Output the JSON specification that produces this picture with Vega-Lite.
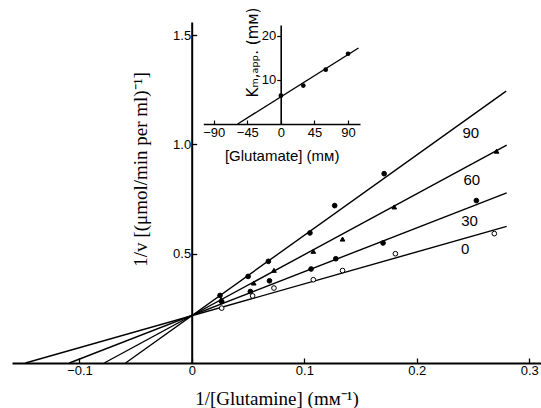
{
  "$schema": "https://vega.github.io/schema/vega-lite/v6.json",
  "autosize": {"type": "none"},
  "padding": {"left": 12, "top": 22, "right": 0, "bottom": 45},
  "width": 529,
  "height": 341,
  "background": "white",
  "config": {"view": {"stroke": null}, "axis": {"grid": false, "domainColor": "black", "tickColor": "black", "labelColor": "black", "titleColor": "black"}},
  "datasets": {
    "lines": [
      {"series": "0", "x": -0.148, "y": 0},
      {"series": "0", "x": 0.28, "y": 0.625},
      {"series": "30", "x": -0.109, "y": 0},
      {"series": "30", "x": 0.28, "y": 0.778},
      {"series": "60", "x": -0.078, "y": 0},
      {"series": "60", "x": 0.28, "y": 0.997},
      {"series": "90", "x": -0.059, "y": 0},
      {"series": "90", "x": 0.2795, "y": 1.244}
    ],
    "points": [
      {"series": "90", "x": 0.025, "y": 0.309},
      {"series": "90", "x": 0.050, "y": 0.396},
      {"series": "90", "x": 0.068, "y": 0.465},
      {"series": "90", "x": 0.105, "y": 0.595},
      {"series": "90", "x": 0.127, "y": 0.720},
      {"series": "90", "x": 0.171, "y": 0.866},
      {"series": "60", "x": 0.026, "y": 0.290},
      {"series": "60", "x": 0.055, "y": 0.366},
      {"series": "60", "x": 0.073, "y": 0.424},
      {"series": "60", "x": 0.108, "y": 0.511},
      {"series": "60", "x": 0.134, "y": 0.567},
      {"series": "60", "x": 0.180, "y": 0.714},
      {"series": "60", "x": 0.271, "y": 0.969},
      {"series": "30", "x": 0.0265, "y": 0.281},
      {"series": "30", "x": 0.052, "y": 0.327},
      {"series": "30", "x": 0.069, "y": 0.376},
      {"series": "30", "x": 0.106, "y": 0.430},
      {"series": "30", "x": 0.128, "y": 0.477},
      {"series": "30", "x": 0.170, "y": 0.549},
      {"series": "30", "x": 0.253, "y": 0.743},
      {"series": "0", "x": 0.0265, "y": 0.251},
      {"series": "0", "x": 0.054, "y": 0.307},
      {"series": "0", "x": 0.073, "y": 0.343},
      {"series": "0", "x": 0.108, "y": 0.381},
      {"series": "0", "x": 0.134, "y": 0.423},
      {"series": "0", "x": 0.181, "y": 0.500},
      {"series": "0", "x": 0.269, "y": 0.592}
    ],
    "labels": [
      {"label": "90", "x": 0.248, "y": 1.054},
      {"label": "60", "x": 0.249, "y": 0.839},
      {"label": "30", "x": 0.247, "y": 0.648},
      {"label": "0", "x": 0.243, "y": 0.523}
    ],
    "inset_pts": [
      {"glu": 0, "km": 6.4},
      {"glu": 30, "km": 8.7},
      {"glu": 60, "km": 12.3},
      {"glu": 90, "km": 15.9}
    ],
    "inset_line": [
      {"glu": -58, "km": 0},
      {"glu": 104, "km": 17.2}
    ]
  },
  "layer": [
    {
      "layer": [
        {
          "data": {"name": "lines"},
          "mark": {"type": "line", "color": "black", "strokeWidth": 1.4},
          "encoding": {
            "x": {"field": "x", "type": "quantitative",
              "scale": {"domain": [-0.16, 0.3105], "nice": false, "zero": false},
              "axis": {
                "orient": "bottom", "values": [-0.1, 0, 0.1, 0.2, 0.3],
                "labelExpr": "datum.value == 0 ? '0' : format(datum.value, '.1f')",
                "domainWidth": 2, "tickSize": -5, "tickWidth": 1.3,
                "labelFont": "Liberation Sans", "labelFontSize": 13, "labelPadding": 6,
                "title": "1/[Glutamine] (mᴍ⁻¹)", "titleFont": "Liberation Serif",
                "titleFontSize": 19, "titleFontWeight": "normal",
                "titleBaseline": "middle", "titleY": 35
              }
            },
            "y": {"field": "y", "type": "quantitative",
              "scale": {"domain": [0, 1.56], "nice": false},
              "axis": {
                "orient": "left", "offset": -179.7, "values": [0.5, 1, 1.5],
                "labelExpr": "format(datum.value, '.1f')",
                "domainWidth": 2, "tickSize": -5, "tickWidth": 1.3,
                "labelFont": "Liberation Sans", "labelFontSize": 13, "labelPadding": 6,
                "title": "1/v [(μmol/min per ml)⁻¹]", "titleFont": "Liberation Serif",
                "titleFontSize": 19, "titleFontWeight": "normal",
                "titleBaseline": "middle", "titleAlign": "center", "titleAngle": -90,
                "titleX": -51, "titleY": 147
              }
            },
            "detail": {"field": "series"}
          }
        },
        {
          "data": {"name": "points"},
          "mark": {"type": "point", "filled": true, "stroke": "black", "strokeWidth": 1, "size": 22, "opacity": 1},
          "encoding": {
            "x": {"field": "x", "type": "quantitative"},
            "y": {"field": "y", "type": "quantitative"},
            "shape": {"field": "series", "type": "nominal", "legend": null,
              "scale": {"domain": ["0", "30", "60", "90"], "range": ["circle", "circle", "triangle-up", "circle"]}},
            "fill": {"field": "series", "type": "nominal", "legend": null,
              "scale": {"domain": ["0", "30", "60", "90"], "range": ["white", "black", "black", "black"]}}
          }
        },
        {
          "data": {"name": "labels"},
          "mark": {"type": "text", "font": "Liberation Sans", "fontSize": 15, "color": "black", "align": "center", "baseline": "middle"},
          "encoding": {
            "x": {"field": "x", "type": "quantitative"},
            "y": {"field": "y", "type": "quantitative"},
            "text": {"field": "label"}
          }
        }
      ]
    },
    {
      "layer": [
        {
          "data": {"name": "inset_line"},
          "mark": {"type": "line", "color": "black", "strokeWidth": 1.4},
          "encoding": {
            "x": {"field": "glu", "type": "quantitative",
              "scale": {"domain": [-104, 106], "range": [191.3, 348], "nice": false, "zero": false},
              "axis": {
                "orient": "bottom", "offset": -239, "values": [-90, -45, 0, 45, 90],
                "domainWidth": 1.6, "tickSize": -4, "tickWidth": 1.2,
                "labelFont": "Liberation Sans", "labelFontSize": 13, "labelPadding": 6,
                "title": "[Glutamate] (mᴍ)", "titleFont": "Liberation Sans",
                "titleFontSize": 15, "titleFontWeight": "normal",
                "titleBaseline": "middle", "titleY": 31
              }
            },
            "y": {"field": "km", "type": "quantitative",
              "scale": {"domain": [0, 22.4], "range": [102, 3], "nice": false},
              "axis": {
                "orient": "left", "offset": -268.7, "values": [10, 20],
                "domainWidth": 1.6, "tickSize": 4, "tickWidth": 1.2,
                "labelFont": "Liberation Sans", "labelFontSize": 13, "labelPadding": 1,
                "title": "Kₘ,ₐₚₚ. (mᴍ)", "titleFont": "DejaVu Sans",
                "titleFontSize": 15, "titleFontWeight": "normal",
                "titleBaseline": "middle", "titleAlign": "center", "titleAngle": -90,
                "titleX": -28, "titleY": 30
              }
            }
          }
        },
        {
          "data": {"name": "inset_pts"},
          "mark": {"type": "point", "filled": true, "color": "black", "size": 22, "opacity": 1},
          "encoding": {
            "x": {"field": "glu", "type": "quantitative"},
            "y": {"field": "km", "type": "quantitative"}
          }
        }
      ]
    }
  ],
  "resolve": {"scale": {"x": "independent", "y": "independent", "shape": "independent", "fill": "independent"}, "axis": {"x": "independent", "y": "independent"}}
}
